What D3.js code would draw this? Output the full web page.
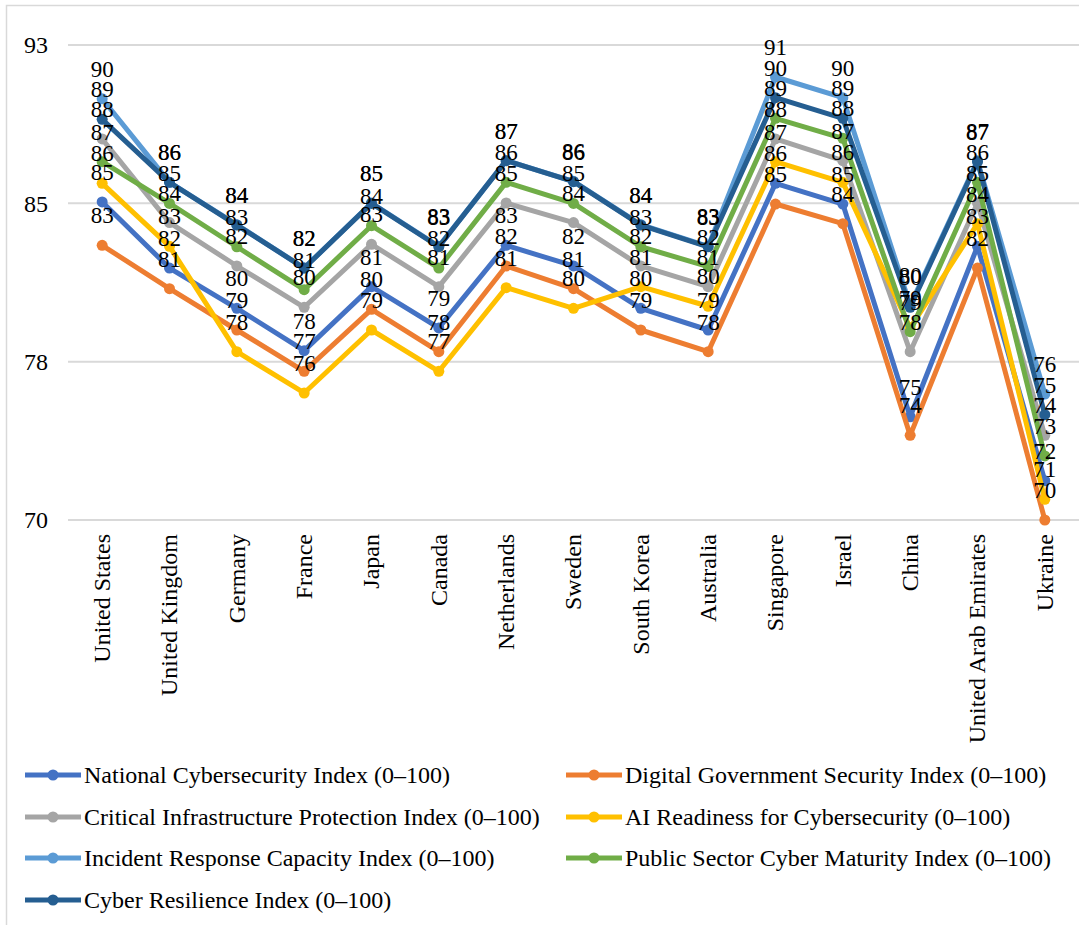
<!DOCTYPE html>
<html>
<head>
<meta charset="utf-8">
<script src="https://cdn.jsdelivr.net/npm/d3@7"></script>
<style>
  html, body { margin: 0; padding: 0; background: #ffffff; }
  svg { display: block; }
  svg text { font-family: "Liberation Serif", "Tinos", "DejaVu Serif", serif !important; fill: #000; }
</style>
</head>
<body>
<svg id="chart" width="1079" height="925"></svg>
<script>
// Countries along the x axis
const categories = [
  "United States", "United Kingdom", "Germany", "France", "Japan", "Canada",
  "Netherlands", "Sweden", "South Korea", "Australia", "Singapore", "Israel",
  "China", "United Arab Emirates", "Ukraine"
];

// Index scores (0–100) per country
const nationalCyber      = [85.4, 82.2, 80.25, 78.2, 81.3, 79.3, 83.3, 82.3, 80.25, 79.2, 86.3, 85.3, 75.0, 83.25, 71.9];
const digitalGovSecurity = [83.3, 81.2, 79.2, 77.2, 80.2, 78.15, 82.3, 81.2, 79.2, 78.15, 85.3, 84.35, 74.1, 82.2, 70.0];
const criticalInfra      = [88.45, 84.4, 82.3, 80.3, 83.35, 81.3, 85.35, 84.4, 82.3, 81.3, 88.45, 87.4, 78.15, 85.35, 74.1];
const aiReadiness        = [86.3, 83.25, 78.15, 76.15, 79.2, 77.2, 81.25, 80.25, 81.3, 80.35, 87.35, 86.35, 79.3, 84.35, 71.0];
const incidentResponse   = [90.4, 86.35, 84.3, 82.2, 85.35, 83.25, 87.4, 86.4, 84.3, 83.25, 91.45, 90.45, 80.4, 87.4, 76.1];
const publicSectorMatur  = [87.35, 85.33, 83.23, 81.15, 84.25, 82.2, 86.35, 85.33, 83.23, 82.27, 89.45, 88.48, 79.12, 86.35, 73.1];
const cyberResilience    = [89.4, 86.35, 84.28, 82.2, 85.33, 83.23, 87.4, 86.38, 84.28, 83.23, 90.45, 89.45, 80.3, 87.35, 75.1];

const seriesNames = [
  "National Cybersecurity Index (0–100)",
  "Digital Government Security Index (0–100)",
  "Critical Infrastructure Protection Index (0–100)",
  "AI Readiness for Cybersecurity (0–100)",
  "Incident Response Capacity Index (0–100)",
  "Public Sector Cyber Maturity Index (0–100)",
  "Cyber Resilience Index (0–100)"
];
const seriesValues = [nationalCyber, digitalGovSecurity, criticalInfra, aiReadiness,
                      incidentResponse, publicSectorMatur, cyberResilience];
const seriesColors = ["#4472C4", "#ED7D31", "#A5A5A5", "#FFC000", "#5B9BD5", "#70AD47", "#255E91"];

// Value axis: four evenly spaced gridlines between 70 and 93
const yMin = 70, yMax = 93;
const yTicks = d3.range(4).map(i => yMin + i * (yMax - yMin) / 3);

const FONT = '"Liberation Serif", "Tinos", "DejaVu Serif", serif';

const series = seriesNames.map((name, i) => ({
  name, color: seriesColors[i],
  points: categories.map((c, j) => ({ cat: c, value: seriesValues[i][j] }))
}));

const svg = d3.select("#chart");

// Chart frame
svg.append("rect")
  .attr("x", 6.5).attr("y", 5.5)
  .attr("width", 1200).attr("height", 1200)
  .attr("fill", "none").attr("stroke", "#d9d9d9").attr("stroke-width", 1.5);

const x = d3.scaleBand().domain(categories).range([68.5, 1078.5]).padding(0);
const y = d3.scaleLinear().domain([yMin, yMax]).range([520, 45]);
const cx = c => x(c) + x.bandwidth() / 2;

// Horizontal gridlines
svg.append("g").selectAll("line").data(yTicks).join("line")
  .attr("x1", 68).attr("x2", 1079)
  .attr("y1", d => y(d)).attr("y2", d => y(d))
  .attr("stroke", "#d9d9d9").attr("stroke-width", 2);

// Y axis tick labels (whole numbers)
const yAxis = d3.axisLeft(y).tickValues(yTicks).tickFormat(d3.format(".0f")).tickSize(0).tickPadding(0);
const gy = svg.append("g").attr("transform", "translate(48,0)").call(yAxis)
  .attr("font-family", FONT).attr("font-size", 24);
gy.select(".domain").remove();
gy.selectAll("text")
  .style("font-family", FONT)
  .attr("fill", "#000")
  .attr("dy", "0.33em");

// Category labels, rotated
const xAxis = d3.axisBottom(x).tickSize(0).tickPadding(0);
const gx = svg.append("g").attr("transform", "translate(0,520)").call(xAxis)
  .attr("font-family", FONT).attr("font-size", 24);
gx.select(".domain").remove();
gx.selectAll("text")
  .style("font-family", FONT)
  .attr("fill", "#000")
  .attr("text-anchor", "end")
  .attr("transform", "rotate(-90)")
  .attr("x", -14)
  .attr("y", 0)
  .attr("dy", "0.33em");

// Lines and markers
const line = d3.line().x(d => cx(d.cat)).y(d => y(d.value));
const gSeries = svg.append("g");
series.forEach(s => {
  const g = gSeries.append("g");
  g.append("path").datum(s.points)
    .attr("d", line)
    .attr("fill", "none")
    .attr("stroke", s.color)
    .attr("stroke-width", 5)
    .attr("stroke-linejoin", "round");
  g.selectAll("circle").data(s.points).join("circle")
    .attr("cx", d => cx(d.cat)).attr("cy", d => y(d.value))
    .attr("r", 5.5).attr("fill", s.color);
});

// Data labels above each point
const fmt = d3.format(".0f");
const gLabels = svg.append("g");
series.forEach(s => {
  gLabels.append("g").selectAll("text").data(s.points).join("text")
    .style("font-family", FONT)
    .attr("x", d => cx(d.cat))
    .attr("y", d => y(d.value) - 22)
    .attr("text-anchor", "middle")
    .attr("font-size", 23)
    .text(d => fmt(d.value));
});

// Legend, two columns
const legendRows = [775, 817, 858, 900];
const legendCols = [25, 566];
const legend = svg.append("g");
series.forEach((s, i) => {
  const lx = legendCols[i % 2];
  const ly = legendRows[Math.floor(i / 2)];
  const g = legend.append("g").attr("transform", `translate(${lx},${ly})`);
  g.append("line").attr("x1", 0).attr("x2", 56).attr("y1", 0).attr("y2", 0)
    .attr("stroke", s.color).attr("stroke-width", 5);
  g.append("circle").attr("cx", 28).attr("cy", 0).attr("r", 5.5).attr("fill", s.color);
  g.append("text").style("font-family", FONT)
    .attr("x", 59).attr("y", 0).attr("dy", "0.33em")
    .attr("font-size", 24).text(s.name);
});
</script>
</body>
</html>
